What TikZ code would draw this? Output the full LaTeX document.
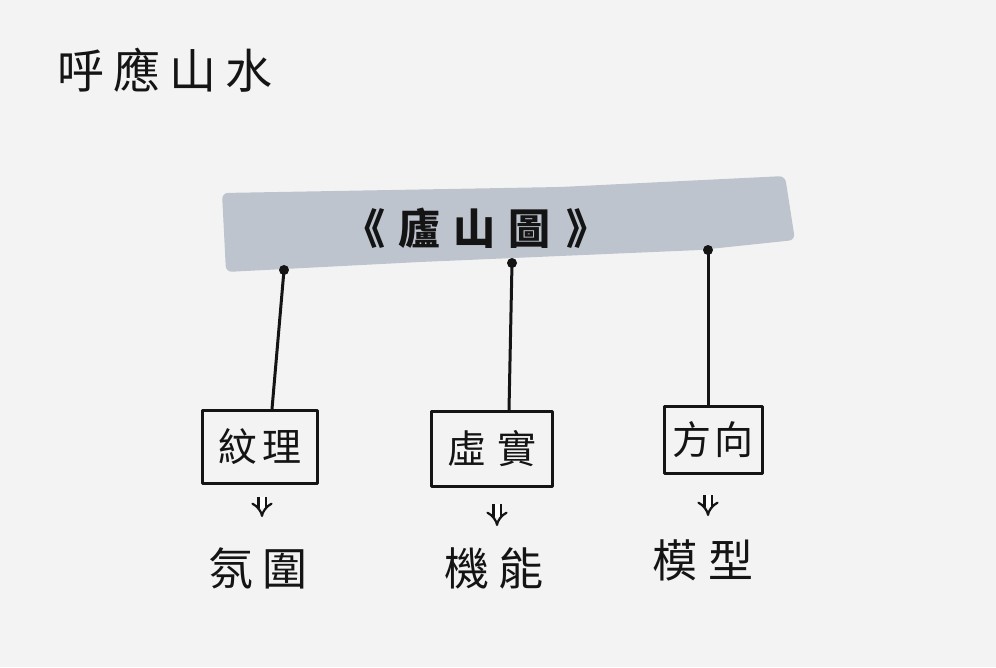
\documentclass[tikz,border=0pt]{standalone}
\usepackage{fontspec}
\newfontfamily\cjk{Noto Sans CJK TC}
\usetikzlibrary{arrows.meta,calc}
\definecolor{paper}{RGB}{243,243,243}
\definecolor{marker}{RGB}{190,196,206}
\definecolor{ink}{RGB}{20,20,20}
\tikzset{
  ink/.style={draw=ink, line width=3pt, line cap=round, line join=round},
  topicbox/.style={ink, rectangle, inner sep=0pt, font=\cjk\fontsize{39}{41}\selectfont, text=ink},
  result/.style={font=\cjk\fontsize{45}{47}\selectfont, text=ink, inner sep=0pt},
  pin/.style={circle, fill=ink, inner sep=0pt, minimum size=10pt},
  leadsto/.style={draw=ink, line width=2.2pt, double distance=5pt, -{Implies[length=9pt]}},
}
\begin{document}
\begin{tikzpicture}[x=1pt,y=-1pt]
  \useasboundingbox[fill=paper] (0,0) rectangle (996,667);
  % title
  \node[font=\cjk\fontsize{47}{50}\selectfont, text=ink, inner sep=0pt, anchor=west] (title) at (57,70) {呼\kern9pt 應\kern9pt 山\kern9pt 水};
  % banner
  \fill[marker, rounded corners=6pt] (222,193) -- (560,187) -- (785,176) -- (795,240) -- (700,250) -- (420,262) -- (226,272) -- cycle;
  \node[font=\cjk\bfseries\fontsize{42}{44}\selectfont, text=ink, inner sep=0pt] (banner) at (476,228) {《\kern14pt 廬\kern12pt 山\kern14pt 圖\kern16pt 》};
  % pins
  \node[pin] (p1) at (284,270) {};
  \node[pin] (p2) at (512,263) {};
  \node[pin] (p3) at (708,250) {};
  % boxes
  \node[topicbox, minimum width=115pt, minimum height=73pt] (b1) at (260,447) {紋\kern6pt 理};
  \node[topicbox, minimum width=121pt, minimum height=75pt] (b2) at (492,449) {虛\kern12pt 實};
  \node[topicbox, minimum width=98pt, minimum height=67pt] (b3) at (713,440) {方\kern4pt 向};
  % connectors
  \coordinate (t1) at ($(b1.north)+(12,0)$);
  \coordinate (t2) at ($(b2.north)+(17,0)$);
  \coordinate (t3) at ($(b3.north)+(-5,0)$);
  \draw[ink] (p1.center) -- (t1);
  \draw[ink] (p2.center) -- (t2);
  \draw[ink] (p3.center) -- (t3);
  % results
  \node[result] (r1) at (258,568) {氛\kern10pt 圍};
  \node[result] (r2) at (494,568) {機\kern10pt 能};
  \node[result] (r3) at (703,560) {模\kern12pt 型};
  % arrows
  \draw[leadsto] ($(b1.south)+(2,12)$) -- ($(b1.south)+(2,32)$);
  \draw[leadsto] ($(b2.south)+(5,16)$) -- ($(b2.south)+(5,38)$);
  \draw[leadsto] ($(b3.south)+(-5,20)$) -- ($(b3.south)+(-5,41)$);
\end{tikzpicture}
\end{document}
